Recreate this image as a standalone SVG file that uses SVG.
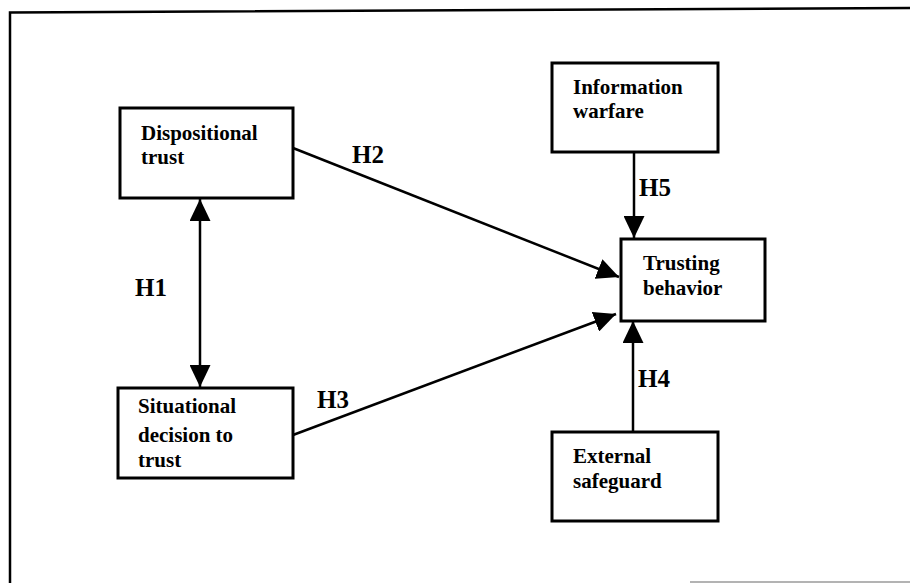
<svg xmlns="http://www.w3.org/2000/svg" width="910" height="583" viewBox="0 0 910 583">
  <style>
    .box { fill: #ffffff; stroke: #000000; stroke-width: 3; }
    .lbl { font-family: "Liberation Serif", "Times New Roman", serif; font-weight: bold; font-size: 21px; fill: #000000; }
    .hyp { font-family: "Liberation Serif", "Times New Roman", serif; font-weight: bold; font-size: 25px; fill: #000000; }
    .edge { fill: none; stroke: #000000; stroke-width: 2.5; }
    .frame { fill: none; stroke: #000000; stroke-width: 2.5; }
  </style>
  <defs>
    <marker id="arrow" markerUnits="userSpaceOnUse" markerWidth="22" markerHeight="21" refX="22" refY="10.5" orient="auto-start-reverse">
      <path d="M0,0 L22,10.5 L0,21 Z" fill="#000000"/>
    </marker>
  </defs>

  <rect width="910" height="583" fill="#ffffff"/>

  <!-- outer frame -->
  <g id="frame">
    <path class="frame" d="M10,583 L10,12.5 L910,8"/>
    <line x1="690" y1="582" x2="910" y2="582" stroke="#9a9a9a" stroke-width="1.5"/>
  </g>

  <!-- connectors -->
  <g id="connectors">
    <line class="edge" x1="200" y1="199" x2="200" y2="387" marker-start="url(#arrow)" marker-end="url(#arrow)"/>
    <line class="edge" x1="293" y1="148" x2="619" y2="277" marker-end="url(#arrow)"/>
    <line class="edge" x1="293" y1="435" x2="616" y2="314" marker-end="url(#arrow)"/>
    <line class="edge" x1="634" y1="152" x2="634" y2="238" marker-end="url(#arrow)"/>
    <line class="edge" x1="633" y1="432" x2="633" y2="321" marker-end="url(#arrow)"/>
    <text class="hyp" x="135" y="296">H1</text>
    <text class="hyp" x="352" y="163">H2</text>
    <text class="hyp" x="317" y="408">H3</text>
    <text class="hyp" x="638" y="387">H4</text>
    <text class="hyp" x="639" y="196">H5</text>
  </g>

  <g id="dispositional-trust">
    <rect class="box" x="120" y="108" width="173" height="90"/>
    <text class="lbl" x="141" y="140">Dispositional</text>
    <text class="lbl" x="141" y="164">trust</text>
  </g>

  <g id="situational-decision">
    <rect class="box" x="118" y="388" width="175" height="90"/>
    <text class="lbl" x="138" y="413">Situational</text>
    <text class="lbl" x="138" y="442">decision to</text>
    <text class="lbl" x="138" y="467">trust</text>
  </g>

  <g id="information-warfare">
    <rect class="box" x="552" y="63" width="166" height="89"/>
    <text class="lbl" x="573" y="94">Information</text>
    <text class="lbl" x="573" y="118">warfare</text>
  </g>

  <g id="trusting-behavior">
    <rect class="box" x="621" y="239" width="144" height="82"/>
    <text class="lbl" x="643" y="270">Trusting</text>
    <text class="lbl" x="643" y="295">behavior</text>
  </g>

  <g id="external-safeguard">
    <rect class="box" x="552" y="432" width="166" height="89"/>
    <text class="lbl" x="573" y="463">External</text>
    <text class="lbl" x="573" y="488">safeguard</text>
  </g>
</svg>
